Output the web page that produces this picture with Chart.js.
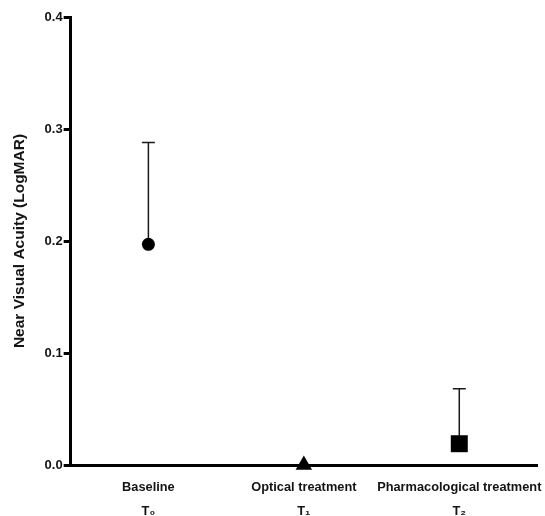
<!DOCTYPE html>
<html>
<head>
<meta charset="utf-8">
<script src="https://cdn.jsdelivr.net/npm/chart.js@4.4.0/dist/chart.umd.min.js"></script>
<style>
  html, body { margin: 0; padding: 0; background: #fff; }
  #wrap { width: 545px; height: 516px; position: relative; }
</style>
</head>
<body>
<div id="wrap"><canvas id="c"></canvas></div>
<script>
const categories = [["Baseline", "T\u2080"], ["Optical treatment", "T\u2081"], ["Pharmacological treatment", "T\u2082"]];
const meanValues = [0.197, 0.0, 0.019];
const upperError = [0.288, 0.0, 0.068];
const yTickValues = [0.0, 0.1, 0.2, 0.3, 0.4];
const markerStyles = ["circle", "triangle", "rect"];

const textColor = "#141414";
const font = "'Liberation Sans', Arial, sans-serif";

const errorBarPlugin = {
  id: "errorBars",
  beforeDatasetsDraw(chart) {
    const ctx = chart.ctx;
    const x = chart.scales.x, y = chart.scales.y;
    ctx.save();
    ctx.strokeStyle = "#1a1a1a";
    ctx.lineWidth = 1.5;
    meanValues.forEach((v, i) => {
      const up = upperError[i];
      if (up == null || up <= v) return;
      const px = x.getPixelForValue(i);
      const py = y.getPixelForValue(v);
      const pu = y.getPixelForValue(up);
      ctx.beginPath();
      ctx.moveTo(px, py);
      ctx.lineTo(px, pu);
      ctx.moveTo(px - 6.5, pu);
      ctx.lineTo(px + 6.5, pu);
      ctx.stroke();
    });
    ctx.restore();
  }
};

new Chart(document.getElementById("c"), {
  type: "line",
  data: {
    labels: categories,
    datasets: [{
      data: meanValues,
      showLine: false,
      pointStyle: markerStyles,
      pointRadius: [6.5, 9.5, 12],
      pointBackgroundColor: "#000",
      pointBorderColor: "#000",
      pointBorderWidth: 0,
      clip: false
    }]
  },
  options: {
    responsive: true,
    maintainAspectRatio: false,
    animation: false,
    layout: { autoPadding: false, padding: { top: 17, right: 8, left: 6, bottom: 0 } },
    plugins: { legend: { display: false }, tooltip: { enabled: false } },
    scales: {
      x: {
        type: "category",
        offset: true,
        grid: { display: false, drawTicks: false },
        border: { display: true, color: "#000", width: 3 },
        afterFit(scale) {
          scale.height = 51; scale.paddingRight = 0; scale.paddingLeft = 0;
        },
        ticks: {
          color: textColor,
          padding: 11,
          maxRotation: 0,
          autoSkip: false,
          font: { family: font, size: 12.8, weight: "bold", lineHeight: 1.85 }
        }
      },
      y: {
        min: 0,
        max: 0.4,
        afterBuildTicks(scale) { scale.ticks = yTickValues.map(v => ({ value: v })); },
        grid: { display: true, drawOnChartArea: false, drawTicks: true, tickLength: 7, tickWidth: 3, color: "#000" },
        border: { display: true, color: "#000", width: 3 },
        ticks: {
          color: textColor,
          padding: 1,
          font: { family: font, size: 13, weight: "bold" },
          callback: v => Number(v).toFixed(1)
        },
        title: {
          display: true,
          text: "Near Visual Acuity (LogMAR)",
          color: textColor,
          padding: { top: 4, bottom: 15 },
          font: { family: font, size: 15.5, weight: "bold" }
        }
      }
    }
  },
  plugins: [errorBarPlugin]
});
</script>
</body>
</html>
